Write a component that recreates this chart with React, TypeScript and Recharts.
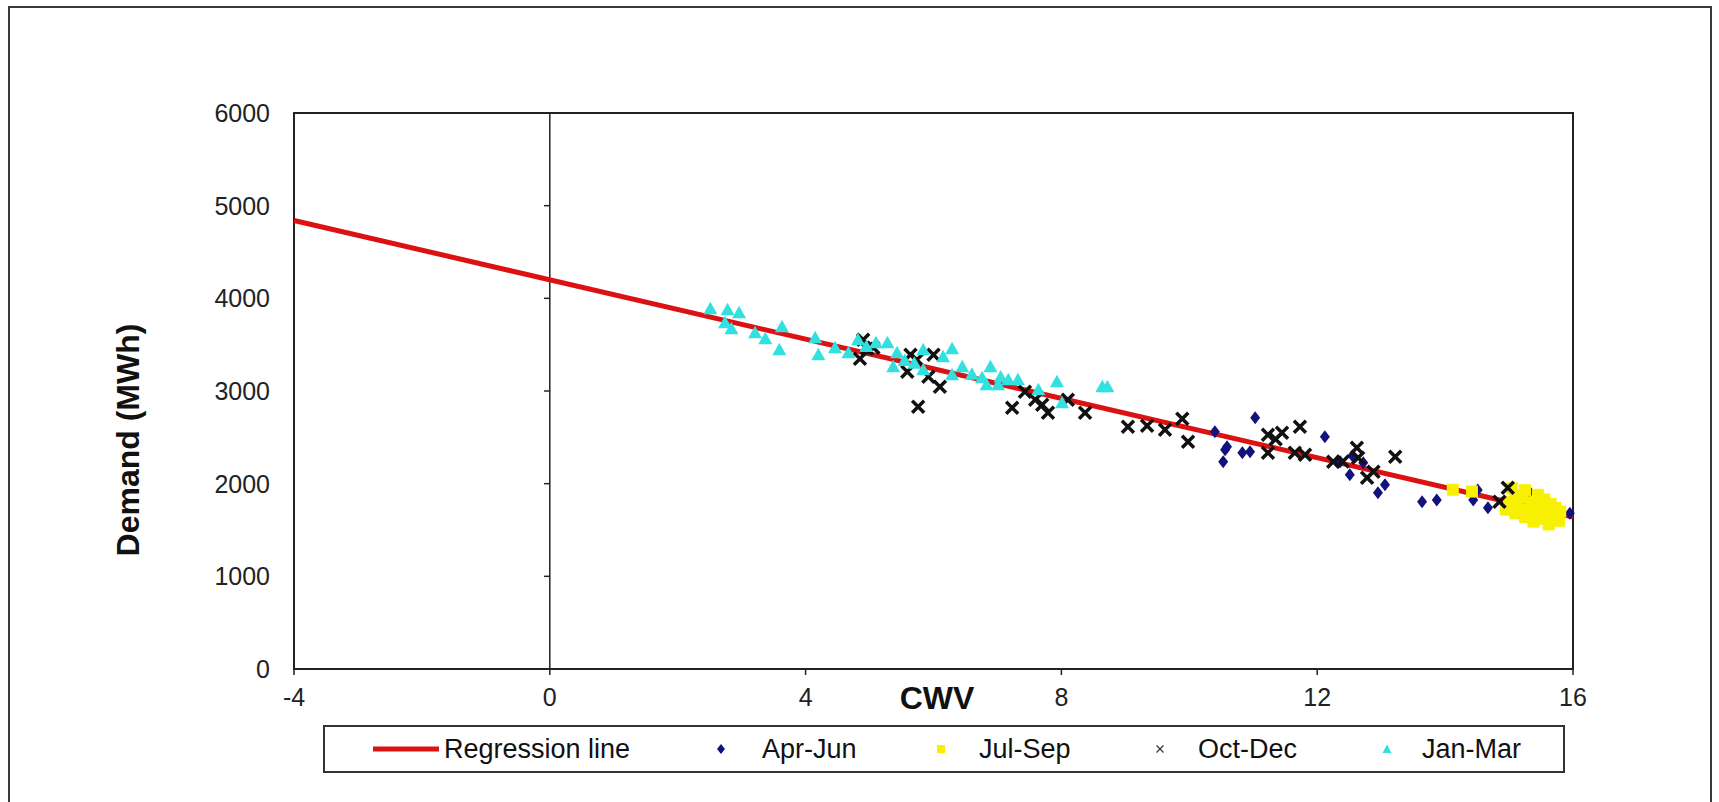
import { ScatterChart, Scatter, XAxis, YAxis, ReferenceLine, ReferenceArea } from 'recharts';

// axis ticks
const xTicks = [-4, 0, 4, 8, 12, 16];
const yTicks = [0, 1000, 2000, 3000, 4000, 5000, 6000];

// fitted line end points (CWV, MWh)
const regressionLine = [[-4, 4840], [16, 1640]];

// quarterly observations: [CWV, demand]
const aprJun = [
  [10.4, 2560], [11.03, 2711], [10.59, 2398], [10.56, 2365], [10.53, 2236], [10.83, 2333],
  [10.95, 2344], [12.12, 2506], [12.51, 2095], [12.36, 2236], [12.72, 2225], [12.55, 2300],
  [12.95, 1901], [13.06, 1987], [13.64, 1804], [13.87, 1825], [14.51, 1933], [14.44, 1825],
  [14.67, 1739], [15.32, 1912], [15.95, 1680],
];

const julSep = [
  [14.12, 1935], [14.42, 1915], [14.95, 1720], [15.0, 1800], [15.05, 1950], [15.1, 1680],
  [15.15, 1760], [15.2, 1860], [15.25, 1640], [15.3, 1720], [15.35, 1800], [15.38, 1590],
  [15.42, 1680], [15.45, 1880], [15.5, 1750], [15.52, 1620], [15.55, 1830], [15.6, 1700],
  [15.62, 1560], [15.65, 1780], [15.7, 1650], [15.72, 1740], [15.78, 1600], [15.8, 1700],
  [15.1, 1870], [15.25, 1930],
];

const octDec = [
  [4.9, 3553], [4.96, 3456], [4.85, 3348], [5.06, 3467], [5.64, 3391], [5.74, 3337],
  [5.59, 3208], [5.76, 2830], [6.0, 3391], [5.92, 3154], [6.1, 3046], [7.23, 2819],
  [7.43, 2992], [7.59, 2905], [7.7, 2851], [7.79, 2765], [8.1, 2905], [8.37, 2765],
  [9.04, 2614], [9.34, 2624], [9.62, 2581], [9.89, 2700], [9.98, 2452], [11.23, 2527],
  [11.45, 2549], [11.73, 2614], [11.23, 2333], [11.65, 2333], [11.81, 2311], [12.25, 2236],
  [12.62, 2387], [12.64, 2279], [12.78, 2063], [12.88, 2128], [13.22, 2290], [14.98, 1955],
  [14.85, 1804], [11.35, 2480], [12.4, 2240],
];

const janMar = [
  [2.51, 3888], [2.78, 3877], [2.96, 3845], [2.74, 3737], [2.84, 3672], [3.21, 3629],
  [3.37, 3564], [3.63, 3694], [3.59, 3445], [4.15, 3575], [4.2, 3391], [4.46, 3467],
  [4.67, 3413], [4.82, 3553], [4.95, 3480], [5.1, 3520], [5.28, 3521], [5.43, 3413],
  [5.37, 3262], [5.55, 3330], [5.7, 3300], [5.84, 3445], [5.84, 3229], [6.29, 3456],
  [6.15, 3370], [6.45, 3262], [6.29, 3175], [6.6, 3180], [6.89, 3262], [6.76, 3143],
  [6.83, 3067], [7.01, 3067], [7.05, 3150], [7.17, 3121], [7.32, 3121], [7.64, 3013],
  [7.93, 3100], [8.01, 2873], [8.64, 3046], [8.72, 3046],
];

const toPoints = (rows: number[][]) => rows.map(([x, y]) => ({ x, y }));

const RED = '#dc1212';
const NAVY = '#12127e';
const YELLOW = '#f7f000';
const CYAN = '#33e0e0';
const INK = '#222';

const PLOT_LEFT = 294;
const YAXIS_W = 80;

const Diamond = ({ cx, cy }: any) => (
  <path d={`M${cx},${cy - 6.5}L${cx + 5},${cy}L${cx},${cy + 6.5}L${cx - 5},${cy}Z`} fill={NAVY} />
);
const Square = ({ cx, cy }: any) => (
  <rect x={cx - 6} y={cy - 6} width={12} height={12} fill={YELLOW} />
);
const Cross = ({ cx, cy }: any) => (
  <path d={`M${cx - 6},${cy - 6}L${cx + 6},${cy + 6}M${cx + 6},${cy - 6}L${cx - 6},${cy + 6}`} stroke="#111" strokeWidth={3.5} />
);
const Triangle = ({ cx, cy }: any) => (
  <path d={`M${cx},${cy - 7}L${cx + 7},${cy + 5.5}L${cx - 7},${cy + 5.5}Z`} fill={CYAN} />
);
const NoDot = () => <g />;

const font = '"Liberation Sans", Arial, sans-serif';

// y labels sit well left of the plot frame, like the spreadsheet original
const YTick = ({ y, payload }: any) => (
  <text x={PLOT_LEFT - 24} y={y} dy="0.36em" textAnchor="end" fill={INK} fontSize={25} fontFamily={font}>
    {payload.value}
  </text>
);

const legendItems = [
  { label: 'Regression line', icon: 'line', x: 373, tx: 444 },
  { label: 'Apr-Jun', icon: 'diamond', x: 721, tx: 762 },
  { label: 'Jul-Sep', icon: 'square', x: 941, tx: 979 },
  { label: 'Oct-Dec', icon: 'cross', x: 1160, tx: 1198 },
  { label: 'Jan-Mar', icon: 'triangle', x: 1387, tx: 1422 },
];

const LegendIcon = ({ icon }: { icon: string }) => {
  if (icon === 'line') return <svg width={66} height={10}><line x1={0} y1={5} x2={66} y2={5} stroke={RED} strokeWidth={5} /></svg>;
  const s = 12;
  return (
    <svg width={s} height={s}>
      {icon === 'diamond' && <path d="M6,1L10,6L6,11L2,6Z" fill={NAVY} />}
      {icon === 'square' && <rect x={2} y={2} width={8} height={8} fill={YELLOW} />}
      {icon === 'cross' && <path d="M2.5,2.5L9.5,9.5M9.5,2.5L2.5,9.5" stroke="#333" strokeWidth={1.2} />}
      {icon === 'triangle' && <path d="M6,1.5L10.5,10L1.5,10Z" fill={CYAN} />}
    </svg>
  );
};

export default function App() {
  return (
    <div style={{ position: 'absolute', left: 0, top: 0, width: 1719, height: 802, overflow: 'hidden', background: '#fff', fontFamily: font }}>
      <div style={{ position: 'absolute', left: 8, top: 6, width: 1700, height: 820, border: '2px solid #3a3a3a' }} />

      <div style={{ position: 'absolute', left: 0, top: 0 }}>
        <ScatterChart width={1719} height={802} margin={{ top: 113, right: 146, bottom: 93, left: PLOT_LEFT - YAXIS_W }}>
          <XAxis
            type="number"
            dataKey="x"
            domain={[-4, 16]}
            ticks={xTicks}
            height={40}
            tickSize={6}
            tickMargin={13}
            axisLine={{ stroke: INK, strokeWidth: 2 }}
            tickLine={{ stroke: INK, strokeWidth: 1.5 }}
            tick={{ fill: INK, fontSize: 25, fontFamily: font }}
          />
          <YAxis
            type="number"
            dataKey="y"
            domain={[0, 6000]}
            ticks={yTicks}
            width={YAXIS_W}
            axisLine={{ stroke: INK, strokeWidth: 2 }}
            tickLine={false}
            tick={YTick}
          />
          <ReferenceArea x1={-4} x2={16} y1={0} y2={6000} fill="none" stroke={INK} strokeWidth={2} fillOpacity={0} />
          <ReferenceLine x={0} stroke={INK} strokeWidth={1.5} />
          {yTicks.slice(1, -1).map((v) => (
            <ReferenceLine key={v} segment={[{ x: -0.09, y: v }, { x: 0, y: v }]} stroke={INK} strokeWidth={1.5} />
          ))}
          <Scatter
            name="Regression line"
            data={toPoints(regressionLine)}
            line={{ stroke: RED, strokeWidth: 5 }}
            shape={NoDot}
            isAnimationActive={false}
          />
          <Scatter name="Apr-Jun" data={toPoints(aprJun)} shape={Diamond} isAnimationActive={false} />
          <Scatter name="Jul-Sep" data={toPoints(julSep)} shape={Square} isAnimationActive={false} />
          <Scatter name="Oct-Dec" data={toPoints(octDec)} shape={Cross} isAnimationActive={false} />
          <Scatter name="Jan-Mar" data={toPoints(janMar)} shape={Triangle} isAnimationActive={false} />
        </ScatterChart>
      </div>

      <div
        style={{
          position: 'absolute', left: 128, top: 440, transform: 'translate(-50%, -50%) rotate(-90deg)',
          fontSize: 32, fontWeight: 'bold', color: '#111', whiteSpace: 'nowrap',
        }}
      >
        Demand (MWh)
      </div>
      <div
        style={{
          position: 'absolute', left: 937, top: 698, transform: 'translate(-50%, -50%)',
          fontSize: 32, fontWeight: 'bold', color: '#111', whiteSpace: 'nowrap',
        }}
      >
        CWV
      </div>

      <div style={{ position: 'absolute', left: 323, top: 725, width: 1238, height: 44, border: '2px solid #333' }} />
      {legendItems.map((it) => (
        <div key={it.label}>
          <div style={{ position: 'absolute', left: it.icon === 'line' ? it.x : it.x - 6, top: it.icon === 'line' ? 744 : 743, lineHeight: 0 }}>
            <LegendIcon icon={it.icon} />
          </div>
          <div style={{ position: 'absolute', left: it.tx, top: 749, transform: 'translateY(-50%)', fontSize: 27, color: '#111', whiteSpace: 'nowrap' }}>
            {it.label}
          </div>
        </div>
      ))}
    </div>
  );
}
